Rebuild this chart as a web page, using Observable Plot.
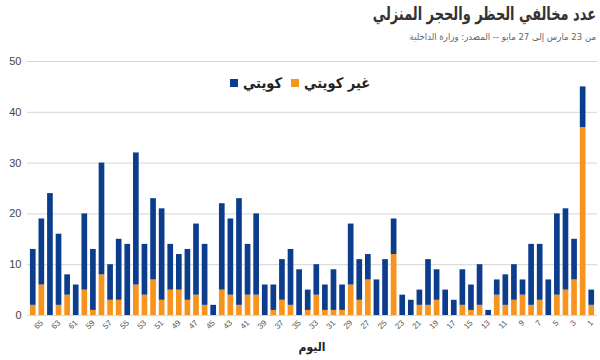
<!DOCTYPE html>
<html lang="ar">
<head>
<meta charset="utf-8">
<script src="https://cdn.jsdelivr.net/npm/d3@7"></script>
<script src="https://cdn.jsdelivr.net/npm/@observablehq/plot@0.6"></script>
<style>
  html, body { margin: 0; padding: 0; background: #fff; }
  #wrap { position: relative; width: 600px; height: 360px; overflow: hidden; font-family: "Liberation Sans", "DejaVu Sans", sans-serif; }
  #title { position: absolute; right: 4px; top: 3px; direction: rtl; font-family: "DejaVu Sans Condensed", "DejaVu Sans", sans-serif; font-weight: bold; font-size: 18px; color: #333; white-space: nowrap; transform: scaleX(0.8); transform-origin: right center; }
  #subtitle { position: absolute; right: 4px; top: 31px; direction: rtl; font-family: "DejaVu Sans Condensed", "DejaVu Sans", sans-serif; font-size: 9.5px; color: #666; white-space: nowrap; }
  #chart { position: absolute; left: 0; top: 50px; }
  #legend { position: absolute; left: 0; width: 600px; top: 75px; display: flex; justify-content: center; direction: rtl; gap: 9px; font-family: "DejaVu Sans Condensed", "DejaVu Sans", sans-serif; font-weight: bold; font-size: 14.5px; color: #222; }
  #legend .item { display: flex; align-items: center; gap: 5px; }
  #legend .sw { width: 8px; height: 8px; display: inline-block; }
  #xtitle { position: absolute; left: 27px; width: 570px; top: 340px; text-align: center; direction: rtl; font-family: "DejaVu Sans Condensed", "DejaVu Sans", sans-serif; font-weight: bold; font-size: 12px; color: #222; }
</style>
</head>
<body>
<div id="wrap">
  <div id="title"></div>
  <div id="subtitle"></div>
  <div id="chart"></div>
  <div id="legend"></div>
  <div id="xtitle"></div>
</div>
<script>
const titleText = "عدد مخالفي الحظر والحجر المنزلي";
const subtitleText = "من 23 مارس إلى 27 مايو -- المصدر: وزارة الداخلية";
const xTitle = "اليوم";
const seriesNames = ["غير كويتي", "كويتي"];
const seriesColors = ["#f7941d", "#0c3c8c"];

// days from left to right (66 .. 1)
const days = [66,65,64,63,62,61,60,59,58,57,56,55,54,53,52,51,50,49,48,47,46,45,44,43,42,41,40,39,38,37,36,35,34,33,32,31,30,29,28,27,26,25,24,23,22,21,20,19,18,17,16,15,14,13,12,11,10,9,8,7,6,5,4,3,2,1];
const nonKuwaiti = [2,6,0,2,4,0,5,1,8,3, 3,0,6,4,7,3,5,5,3,4, 2,0,5,4,2,4,4,0,1,3, 2,0,1,4,1,1,1,6,3,7, 0,0,12,0,0,2,2,3,0,0, 2,1,2,0,4,2,3,4,2,3, 0,4,5,7,37,2];
const kuwaiti = [11,13,24,14,4,6,15,12,22,7, 12,14,26,10,16,18,9,7,10,14, 12,2,17,15,21,10,16,6,5,8, 11,9,4,6,5,8,5,12,8,5, 7,11,7,4,3,3,9,6,5,3, 7,5,8,1,3,6,7,3,12,11, 7,16,16,8,8,3];
const xTickLabels = [65,63,61,59,57,55,53,51,49,47,45,43,41,39,37,35,33,31,29,27,25,23,21,19,17,15,13,11,9,7,5,3,1];
const yTicks = [0,10,20,30,40,50];

document.getElementById("title").textContent = titleText;
document.getElementById("subtitle").textContent = subtitleText;
document.getElementById("xtitle").textContent = xTitle;

const legend = document.getElementById("legend");
seriesNames.forEach((n, i) => {
  const it = document.createElement("span");
  it.className = "item";
  const t = document.createElement("span");
  t.textContent = n;
  const sw = document.createElement("span");
  sw.className = "sw";
  sw.style.background = seriesColors[i];
  it.appendChild(t);
  it.appendChild(sw);
  legend.appendChild(it);
});

const rows = [];
days.forEach((d, i) => {
  rows.push({day: d, series: seriesNames[0], value: nonKuwaiti[i]});
  rows.push({day: d, series: seriesNames[1], value: kuwaiti[i]});
});

const chart = Plot.plot({
  width: 600,
  height: 290,
  marginTop: 11,
  marginBottom: 25,
  marginLeft: 27,
  marginRight: 3,
  style: {fontFamily: "Liberation Sans, DejaVu Sans, sans-serif", background: "transparent"},
  x: {type: "band", domain: days, padding: 0.34, label: null},
  y: {domain: [0, 50], label: null},
  color: {domain: seriesNames, range: seriesColors},
  marks: [
    Plot.gridY(yTicks, {stroke: "#d6d6d6", strokeOpacity: 1}),
    Plot.barY(rows, {x: "day", y: "value", fill: "series"}),
    Plot.axisY(yTicks, {tickSize: 0, tickPadding: 6, fontSize: 11, fill: "#444", label: null}),
    Plot.axisX(xTickLabels, {tickSize: 0, tickPadding: 6, tickRotate: -45, fontSize: 8, fill: "#555", label: null})
  ]
});
document.getElementById("chart").appendChild(chart);
</script>
</body>
</html>
